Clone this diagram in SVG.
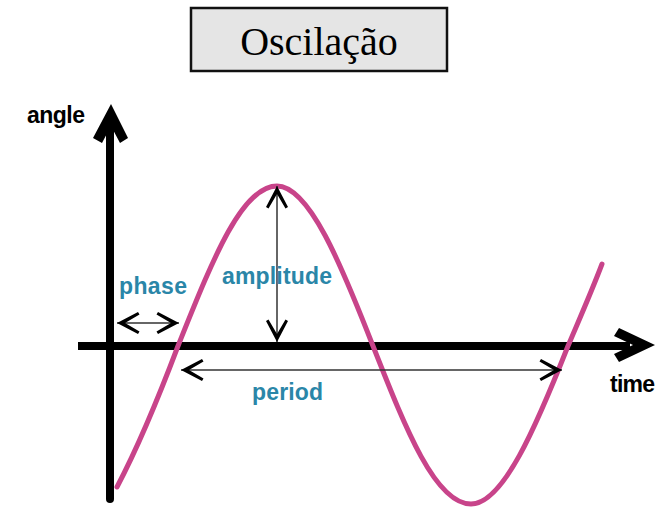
<svg xmlns="http://www.w3.org/2000/svg" width="670" height="507" viewBox="0 0 670 507">
<style>
.lbl{font-family:"Liberation Sans",Arial,sans-serif;font-weight:bold;font-size:23px;}
.blue{fill:#2a86a8;}
.dim{stroke:#333;stroke-width:1.5;fill:none;marker-start:url(#ah);marker-end:url(#ah);}
.axis{stroke:#000;stroke-width:8;fill:none;}
</style>
<defs>
<marker id="ah" markerUnits="userSpaceOnUse" viewBox="-24 -13 26 26" refX="0" refY="0" markerWidth="26" markerHeight="26" orient="auto-start-reverse">
<path d="M0,0 L-21,-11 L-22.5,-8.5 L-8,0 L-22.5,8.5 L-21,11 Z" fill="#000"/>
</marker>
</defs>
<rect width="670" height="507" fill="#fff"/>
<g id="title">
<rect x="191" y="8" width="256" height="63" fill="#e5e5e5" stroke="#111" stroke-width="2.5"/>
<text x="319" y="55" text-anchor="middle" font-family="'Liberation Serif','Times New Roman',serif" font-size="40" fill="#000">Oscilação</text>
</g>
<g id="axes">
<line class="axis" x1="110" y1="128" x2="110" y2="499" stroke-linecap="round"/>
<polygon points="111,104 128,138 120,143 111,126 102,143 93,138" fill="#000"/>
<line class="axis" x1="78" y1="346" x2="630" y2="346"/>
<polygon points="655,345 619,328 614,336 633,345 614,354 619,362" fill="#000"/>
<text class="lbl" x="27" y="123" fill="#000" textLength="58">angle</text>
<text class="lbl" x="610" y="392" fill="#000" textLength="45">time</text>
</g>
<g id="wave">
<path d="M117,487 C137,449 158,399 178,346 C211,264 241,186 277,186 C309,186 341,264 373,346 C405,427 435,504 471,504 C503,504 536,427 568,346 C579,320 591,293 602,264" fill="none" stroke="#c8448a" stroke-width="5" stroke-linecap="round"/>
</g>
<g id="connectors">
<line class="dim" x1="117" y1="323" x2="179" y2="323"/>
<line class="dim" x1="277" y1="186" x2="277" y2="342"/>
<line class="dim" x1="181" y1="370" x2="562" y2="370"/>
</g>
<g id="labels">
<text class="lbl blue" x="119" y="294" textLength="68">phase</text>
<text class="lbl blue" x="222" y="284" textLength="110">amplitude</text>
<text class="lbl blue" x="252" y="400" textLength="71">period</text>
</g>
</svg>
